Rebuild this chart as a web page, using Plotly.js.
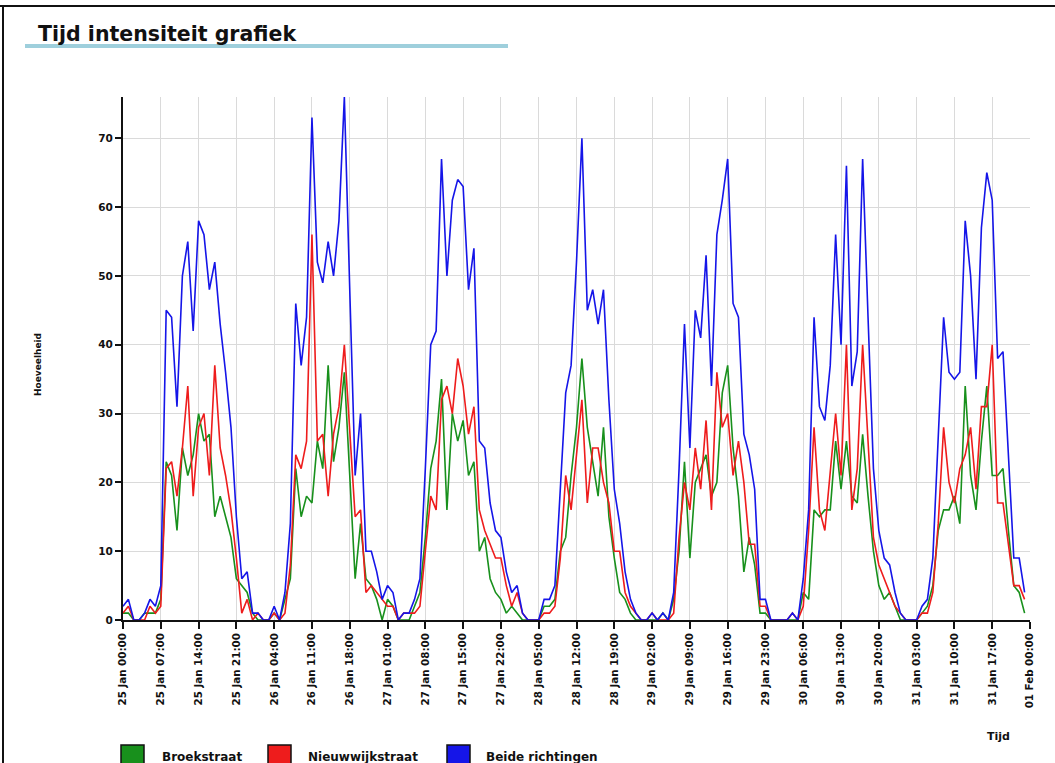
<!DOCTYPE html>
<html>
<head>
<meta charset="utf-8">
<script src="https://cdn.plot.ly/plotly-3.0.1.min.js"></script>
<style>
  html, body { margin: 0; padding: 0; background: #ffffff; }
  #chart { width: 1055px; height: 763px; }
</style>
</head>
<body>
<div id="chart"></div>
<script>
// Hourly counts, 25 Jan 00:00 .. 31 Jan 23:00 (hour index 0..167)
const broekstraat = [
  1,1,0,0,1,1,1,3,23,21,13,25,21,24,30,26,27,15,18,15,12,6,5,4,
  1,0,0,0,1,0,3,6,22,15,18,17,26,22,37,23,28,36,21,6,14,6,5,3,
  0,3,2,0,0,0,2,4,12,22,26,35,16,30,26,29,21,23,10,12,6,4,3,1,
  2,1,0,0,0,0,2,2,3,10,12,21,28,38,28,23,18,28,15,9,4,3,1,0,
  0,0,0,0,1,0,3,10,23,9,20,22,24,18,20,33,37,25,18,7,12,8,1,1,
  0,0,0,0,0,0,4,3,16,15,16,16,26,19,26,18,17,27,18,10,5,3,4,2,
  0,0,0,0,1,2,5,13,16,16,18,14,34,21,16,26,34,21,21,22,13,5,4,1
];
const nieuwwijkstraat = [
  1,2,0,0,0,2,1,2,22,23,18,25,34,18,28,30,21,37,25,21,16,9,1,3,
  0,1,0,0,1,0,1,8,24,22,26,56,26,27,18,27,31,40,27,15,16,4,5,4,
  3,2,2,0,1,1,1,2,10,18,16,32,34,30,38,34,27,31,16,13,11,9,9,5,
  2,4,1,0,0,0,1,1,2,9,21,16,24,32,17,25,25,20,17,10,10,4,2,1,
  0,0,1,0,0,0,1,12,20,16,25,19,29,16,36,28,30,21,26,20,11,11,2,2,
  0,0,0,0,1,0,2,13,28,16,13,21,30,21,40,16,22,40,26,12,8,6,4,2,
  1,0,0,0,1,1,4,14,28,20,17,22,24,28,19,31,31,40,17,17,11,5,5,3
];
const beideRichtingen = [
  2,3,0,0,1,3,2,5,45,44,31,50,55,42,58,56,48,52,43,36,28,15,6,7,
  1,1,0,0,2,0,4,14,46,37,44,73,52,49,55,50,58,76,48,21,30,10,10,7,
  3,5,4,0,1,1,3,6,22,40,42,67,50,61,64,63,48,54,26,25,17,13,12,7,
  4,5,1,0,0,0,3,3,5,19,33,37,52,70,45,48,43,48,32,19,14,7,3,1,
  0,0,1,0,1,0,4,22,43,25,45,41,53,34,56,61,67,46,44,27,24,19,3,3,
  0,0,0,0,1,0,6,16,44,31,29,37,56,40,66,34,39,67,44,22,13,9,8,4,
  1,0,0,0,2,3,9,27,44,36,35,36,58,50,35,57,65,61,38,39,24,9,9,4
];
const tickLabels = [
  "25 Jan 00:00","25 Jan 07:00","25 Jan 14:00","25 Jan 21:00",
  "26 Jan 04:00","26 Jan 11:00","26 Jan 18:00","27 Jan 01:00",
  "27 Jan 08:00","27 Jan 15:00","27 Jan 22:00","28 Jan 05:00",
  "28 Jan 12:00","28 Jan 19:00","29 Jan 02:00","29 Jan 09:00",
  "29 Jan 16:00","29 Jan 23:00","30 Jan 06:00","30 Jan 13:00",
  "30 Jan 20:00","31 Jan 03:00","31 Jan 10:00","31 Jan 17:00",
  "01 Feb 00:00"
];
const seriesNames = ["Broekstraat", "Nieuwwijkstraat", "Beide richtingen"];
const seriesColors = ["#18901c", "#ee1c1c", "#1515e8"];

const hours = broekstraat.map((_, i) => i);
const tickStep = 7;
const tickVals = tickLabels.map((_, i) => i * tickStep);

const W = 1055, H = 763, L = 123, R = 25, T = 97, B = 143;
const pw = W - L - R, ph = H - T - B;
const px = x => (x - L) / pw;
const py = y => (H - B - y) / ph;

const FONT = "DejaVu Sans, Verdana, sans-serif";

const traces = [broekstraat, nieuwwijkstraat, beideRichtingen].map((vals, k) => ({
  type: "scatter",
  mode: "lines",
  name: seriesNames[k],
  x: hours,
  y: vals,
  line: { color: seriesColors[k], width: 1.6 },
  showlegend: false,
  hoverinfo: "x+y+name"
}));

const legendX = [121, 268, 447];
const legendTextX = [160, 306, 484];
const shapes = [
  // page frame (top and left)
  { type: "line", xref: "paper", yref: "paper", x0: px(0), x1: px(W), y0: py(6), y1: py(6),
    line: { color: "#111", width: 2 } },
  { type: "line", xref: "paper", yref: "paper", x0: px(3), x1: px(3), y0: py(6), y1: py(H),
    line: { color: "#111", width: 2 } },
  // title underline
  { type: "line", xref: "paper", yref: "paper", x0: px(25), x1: px(508), y0: py(46), y1: py(46),
    line: { color: "#9ecfdc", width: 4 } }
];
const annotations = [
  { text: "<b>Hoeveelheid</b>", xref: "paper", yref: "paper", x: px(31), y: py(365),
    textangle: -90, showarrow: false, font: { family: FONT, size: 9, color: "#111" } },
  { text: "<b>Tijd</b>", xref: "paper", yref: "paper", x: px(1012), y: py(745),
    showarrow: false, font: { family: FONT, size: 11, color: "#111" } }
];
seriesNames.forEach((name, k) => {
  shapes.push({ type: "rect", xref: "paper", yref: "paper",
    x0: px(legendX[k]), x1: px(legendX[k] + 23), y0: py(745), y1: py(768),
    fillcolor: seriesColors[k], line: { color: "#111", width: 1.5 } });
  annotations.push({ text: "<b>" + name + "</b>", xref: "paper", yref: "paper",
    x: px(legendTextX[k]), y: py(757), xanchor: "left", yanchor: "middle",
    showarrow: false, font: { family: FONT, size: 12, color: "#111" } });
});

const layout = {
  width: W, height: H,
  margin: { l: L, r: R, t: T, b: B, pad: 0 },
  paper_bgcolor: "#ffffff",
  plot_bgcolor: "#ffffff",
  title: {
    text: "<b>Tijd intensiteit grafiek</b>",
    xref: "container", yref: "container",
    x: 38 / W, xanchor: "left",
    y: 1 - 34 / H, yanchor: "middle",
    font: { family: FONT, size: 20.5, color: "#111" }
  },
  xaxis: {
    range: [0, 168],
    tickmode: "array",
    tickvals: tickVals,
    ticktext: tickLabels,
    tickangle: -90,
    ticks: "outside", ticklen: 7, tickwidth: 2, tickcolor: "#111",
    showline: true, linecolor: "#111", linewidth: 2,
    showgrid: true, gridcolor: "#dadada", gridwidth: 1,
    zeroline: false,
    tickfont: { family: FONT, size: 10.3, color: "#111", weight: "bold" },
    fixedrange: true
  },
  yaxis: {
    range: [0, 76],
    tickmode: "linear", tick0: 0, dtick: 10,
    ticks: "outside", ticklen: 6, tickwidth: 2, tickcolor: "#111",
    showline: true, linecolor: "#111", linewidth: 2,
    showgrid: true, gridcolor: "#dadada", gridwidth: 1,
    zeroline: false,
    tickfont: { family: FONT, size: 10.5, color: "#111", weight: "bold" },
    fixedrange: true
  },
  shapes: shapes,
  annotations: annotations,
  showlegend: false
};

Plotly.newPlot("chart", traces, layout, { displayModeBar: false, staticPlot: true });
</script>
</body>
</html>
